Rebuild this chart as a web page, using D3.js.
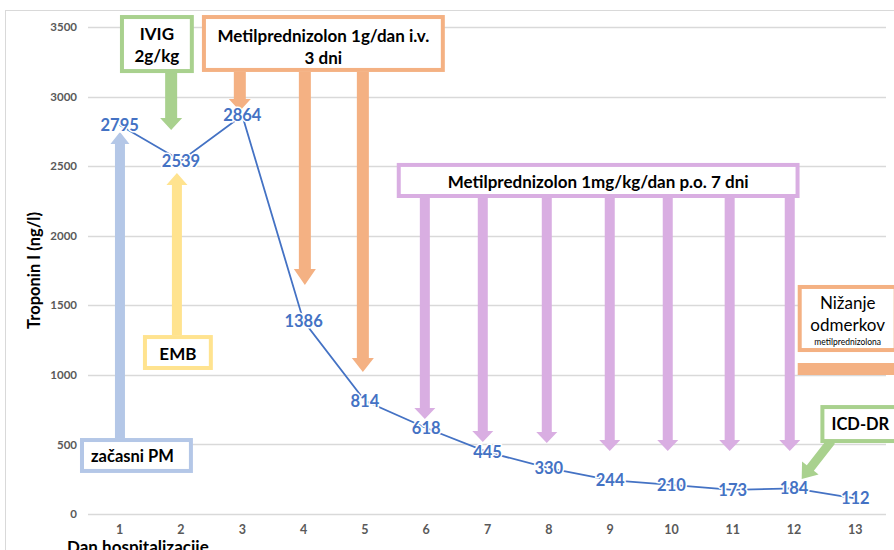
<!DOCTYPE html>
<html>
<head>
<meta charset="utf-8">
<script src="https://cdn.jsdelivr.net/npm/d3@7"></script>
<style>
  html, body { margin: 0; padding: 0; background: #fff; }
  svg { display: block; }
  text { font-family: Lato, "Open Sans", sans-serif; }
</style>
</head>
<body>
<div id="chart"></div>
<script>
// Troponin I by hospital day
const days = [1, 2, 3, 4, 5, 6, 7, 8, 9, 10, 11, 12, 13];
const troponin = [2795, 2539, 2864, 1386, 814, 618, 445, 330, 244, 210, 173, 184, 112];
const yTicks = [0, 500, 1000, 1500, 2000, 2500, 3000, 3500];
const yTitle = "Troponin I (ng/l)";
const xTitle = "Dan hospitalizacije";

// Treatment annotations, anchored in chart units (day, ng/l)
const boxes = [
  { lines: ["IVIG", "2g/kg"], color: "#A9D18E", d: [1.005, 2.21], v: [3586, 3169], rows: [18, 40], size: [17, 17], weight: 700 },
  { lines: ["Metilprednizolon 1g/dan i.v.", "3 dni"], color: "#F4B183", d: [2.342, 6.304], v: [3586, 3177], rows: [20, 42], size: [17, 17], weight: 700 },
  { lines: ["Metilprednizolon 1mg/kg/dan p.o. 7 dni"], color: "#D9AEE2", d: [5.52, 12.09], v: [2523, 2271], rows: [19], size: [17], weight: 700 },
  { lines: ["EMB"], color: "#FFE38F", d: [1.38, 2.52], v: [1286, 1035], rows: [18], size: [17], weight: 700 },
  { lines: ["začasni PM"], color: "#B4C7E7", d: [0.353, 2.195], v: [546, 295], rows: [18], size: [16.5], weight: 700, shift: -4 },
  { lines: ["Nižanje", "odmerkov", "metilprednizolona"], color: "#F4B183", d: [12.06, 13.69], v: [1646, 1164], rows: [18, 40, 57], size: [17, 17, 8.5], weight: 400 },
  { lines: ["ICD-DR"], color: "#A9D18E", d: [12.43, 13.8], v: [783, 510], rows: [19], size: [16.5], weight: 700, shift: -2 }
];

const arrows = [
  { color: "#A9D18E", from: [1.84, 3169], to: [1.84, 2760], shaft: 12, head: 22, headLen: 12 },
  { color: "#F4B183", from: [2.96, 3177], to: [2.96, 2896], shaft: 12, head: 22, headLen: 12 },
  { color: "#F4B183", from: [4.021, 3177], to: [4.021, 1646], shaft: 12, head: 22, headLen: 16 },
  { color: "#F4B183", from: [4.967, 3177], to: [4.967, 1021], shaft: 12, head: 22, headLen: 14 },
  { color: "#D9AEE2", from: [5.978, 2271], to: [5.978, 683], shaft: 10, head: 21, headLen: 11 },
  { color: "#D9AEE2", from: [6.923, 2271], to: [6.923, 517], shaft: 10, head: 21, headLen: 11 },
  { color: "#D9AEE2", from: [7.967, 2271], to: [7.967, 510], shaft: 10, head: 21, headLen: 11 },
  { color: "#D9AEE2", from: [8.994, 2271], to: [8.994, 453], shaft: 10, head: 21, headLen: 11 },
  { color: "#D9AEE2", from: [9.94, 2271], to: [9.94, 453], shaft: 10, head: 21, headLen: 11 },
  { color: "#D9AEE2", from: [10.95, 2271], to: [10.95, 453], shaft: 10, head: 21, headLen: 11 },
  { color: "#D9AEE2", from: [11.93, 2271], to: [11.93, 453], shaft: 10, head: 21, headLen: 11 },
  { color: "#FFE38F", from: [1.934, 1286], to: [1.934, 2451], shaft: 10, head: 21, headLen: 12 },
  { color: "#B4C7E7", from: [1.005, 546], to: [1.005, 2745], shaft: 10, head: 19, headLen: 12 },
  { color: "#F4B183", from: [12.06, 1042], to: [14.04, 1042], shaft: 12, head: 24, headLen: 14 },
  { color: "#A9D18E", from: [12.61, 525], to: [12.125, 252], shaft: 9, head: 21, headLen: 14 }
];

const W = 894, H = 550;
const plot = { left: 89, right: 886, top: 27, bottom: 514 };

const svg = d3.select("#chart").append("svg")
  .attr("width", W).attr("height", H);

// Chart frame
svg.append("rect")
  .attr("x", 5.5).attr("y", 10.5)
  .attr("width", W + 10).attr("height", H + 10)
  .attr("fill", "none").attr("stroke", "#D9D9D9").attr("stroke-width", 1);

const x = d3.scaleBand().domain(days).range([plot.left, plot.right]).padding(0);
const y = d3.scaleLinear().domain([0, 3500]).range([plot.bottom, plot.top]);
// continuous day scale aligned with the band centres
const xDay = d3.scaleLinear().domain([1, 13])
  .range([x(1) + x.bandwidth() / 2, x(13) + x.bandwidth() / 2]);

// Gridlines
svg.append("g").selectAll("line").data(yTicks).join("line")
  .attr("x1", plot.left - 1).attr("x2", plot.right)
  .attr("y1", d => Math.round(y(d)) + 0.5).attr("y2", d => Math.round(y(d)) + 0.5)
  .attr("stroke", "#D9D9D9").attr("stroke-width", 1.3);

// Y axis (labels only)
const yAxis = svg.append("g")
  .attr("transform", `translate(${plot.left - 12},0)`)
  .call(d3.axisLeft(y).tickValues(yTicks).tickSize(0).tickPadding(0).tickFormat(d3.format("d")));
yAxis.select(".domain").remove();
yAxis.selectAll("text")
  .attr("fill", "#595959").attr("font-size", 11.5).attr("font-weight", 700)
  .style("font-family", "Lato, sans-serif");

// X axis (labels only)
const xAxis = svg.append("g")
  .attr("transform", `translate(0,${plot.bottom + 11})`)
  .call(d3.axisBottom(x).tickSize(0).tickPadding(0));
xAxis.select(".domain").remove();
xAxis.selectAll("text")
  .attr("fill", "#595959").attr("font-size", 12.5).attr("font-weight", 700)
  .style("font-family", "Lato, sans-serif");

// Axis titles
svg.append("text")
  .attr("transform", `translate(40,${(plot.top + plot.bottom) / 2}) rotate(-90)`)
  .attr("text-anchor", "middle")
  .attr("font-size", 16.5).attr("font-weight", 700).attr("fill", "#000")
  .text(yTitle);

svg.append("text")
  .attr("x", 67).attr("y", 553)
  .attr("font-size", 17).attr("font-weight", 700).attr("fill", "#000")
  .text(xTitle);

// Block arrow polygon
function arrowPath(x1, y1, x2, y2, shaft, head, headLen) {
  const dx = x2 - x1, dy = y2 - y1;
  const len = Math.hypot(dx, dy);
  const ux = dx / len, uy = dy / len;
  const nx = -uy, ny = ux;
  const bx = x2 - ux * headLen, by = y2 - uy * headLen;
  const s = shaft / 2, h = head / 2;
  const pts = [
    [x1 + nx * s, y1 + ny * s],
    [bx + nx * s, by + ny * s],
    [bx + nx * h, by + ny * h],
    [x2, y2],
    [bx - nx * h, by - ny * h],
    [bx - nx * s, by - ny * s],
    [x1 - nx * s, y1 - ny * s]
  ];
  return "M" + pts.map(p => p.join(",")).join("L") + "Z";
}

const annot = svg.append("g");
annot.selectAll("path").data(arrows).join("path")
  .attr("d", a => arrowPath(xDay(a.from[0]), y(a.from[1]), xDay(a.to[0]), y(a.to[1]), a.shaft, a.head, a.headLen))
  .attr("fill", a => a.color);

// Annotation boxes
const sw = 4;
const boxG = annot.selectAll("g.box").data(boxes).join("g").attr("class", "box");
boxG.append("rect")
  .attr("x", b => xDay(b.d[0]) + sw / 2)
  .attr("y", b => y(b.v[0]) + sw / 2)
  .attr("width", b => xDay(b.d[1]) - xDay(b.d[0]) - sw)
  .attr("height", b => y(b.v[1]) - y(b.v[0]) - sw)
  .attr("fill", "#fff").attr("stroke", b => b.color).attr("stroke-width", sw);
boxG.each(function (b) {
  const cx = (xDay(b.d[0]) + xDay(b.d[1])) / 2 + (b.shift || 0);
  const top = y(b.v[0]);
  b.lines.forEach((t, i) => {
    d3.select(this).append("text")
      .attr("x", cx).attr("y", top + b.rows[i])
      .attr("text-anchor", "middle").attr("dominant-baseline", "central")
      .attr("font-size", b.size[i]).attr("font-weight", b.weight)
      .attr("fill", "#000").text(t);
  });
});

// Troponin line
const pts = days.map((d, i) => [x(d) + x.bandwidth() / 2, y(troponin[i])]);
svg.append("path")
  .attr("d", d3.line()(pts))
  .attr("fill", "none").attr("stroke", "#4472C4").attr("stroke-width", 1.8);

// Value labels centred on the points
svg.append("g").selectAll("text").data(days).join("text")
  .attr("x", (d, i) => pts[i][0])
  .attr("y", (d, i) => pts[i][1])
  .attr("text-anchor", "middle").attr("dominant-baseline", "central")
  .attr("font-size", 16.5).attr("font-weight", 700)
  .attr("fill", "#4472C4")
  .attr("stroke", "#fff").attr("stroke-width", 3).attr("paint-order", "stroke")
  .text((d, i) => troponin[i]);
</script>
</body>
</html>
